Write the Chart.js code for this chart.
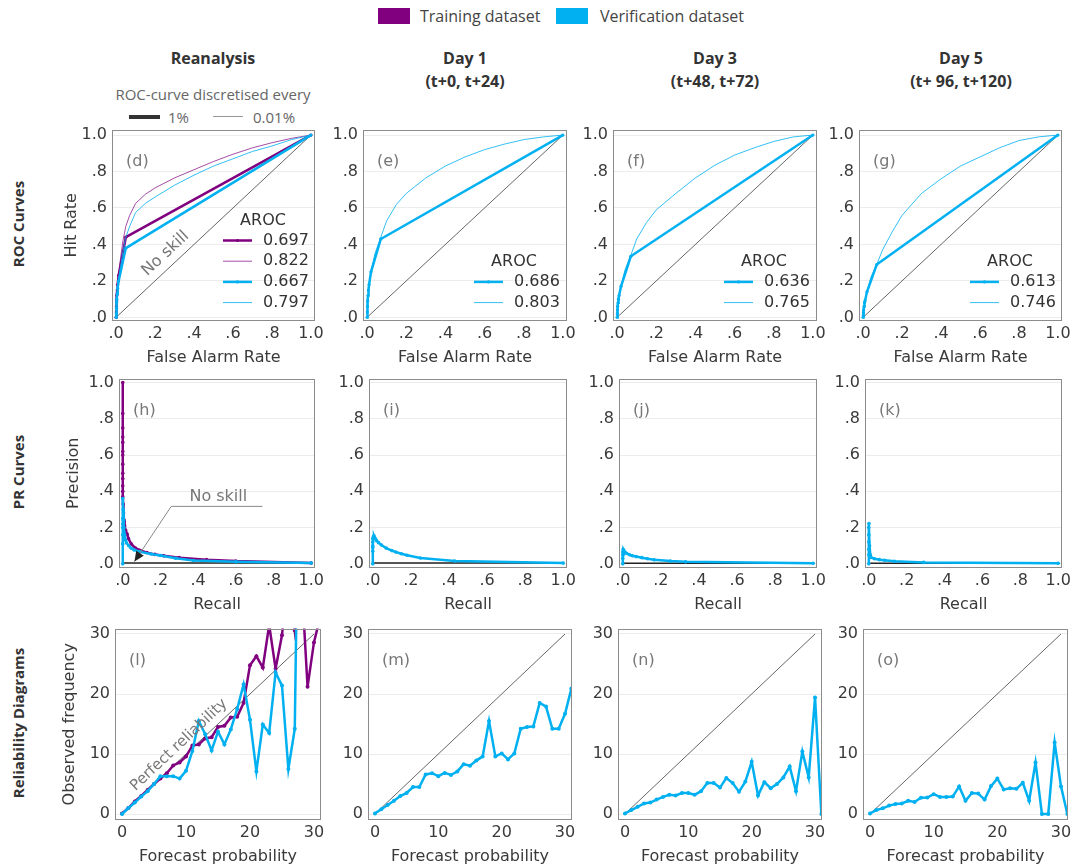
<!DOCTYPE html>
<html>
<head>
<meta charset="utf-8">
<script src="https://cdn.jsdelivr.net/npm/chart.js@4.4.1/dist/chart.umd.min.js"></script>
<style>
  body { margin:0; width:1075px; height:868px; position:relative; overflow:hidden; background:#fff; font-family:"Open Sans", sans-serif; }
  .t { position:absolute; white-space:nowrap; transform:translate(-50%,-50%); }
  .hdr { font-weight:bold; font-size:16px; color:#333; }
  .row { font-weight:bold; font-size:15px; color:#333; transform:translate(-50%,-50%) rotate(-90deg); }
  .lg { position:absolute; white-space:nowrap; transform:translateY(-50%); }
  .sw { position:absolute; }
  canvas { position:absolute; }
</style>
</head>
<body>

<!-- dataset legend -->
<div class="sw" style="left:378px;top:8px;width:32px;height:16px;background:#800080"></div>
<div class="lg" style="left:420px;top:16px;font-size:16px;color:#444">Training dataset</div>
<div class="sw" style="left:556px;top:8px;width:32px;height:16px;background:#00b0f0"></div>
<div class="lg" style="left:600px;top:16px;font-size:16px;color:#444">Verification dataset</div>

<!-- column headers -->
<div class="t hdr" style="left:213px;top:58px">Reanalysis</div>
<div class="t hdr" style="left:465px;top:58px">Day 1</div>
<div class="t hdr" style="left:465px;top:81px">(t+0, t+24)</div>
<div class="t hdr" style="left:715px;top:58px">Day 3</div>
<div class="t hdr" style="left:715px;top:81px">(t+48, t+72)</div>
<div class="t hdr" style="left:961px;top:58px">Day 5</div>
<div class="t hdr" style="left:961px;top:81px">(t+ 96, t+120)</div>

<!-- discretisation legend -->
<div class="t" style="left:213px;top:94px;font-size:15px;color:#666">ROC-curve discretised every</div>
<div class="sw" style="left:129px;top:115px;width:31px;height:4px;background:#333"></div>
<div class="lg" style="left:168px;top:117px;font-size:15px;color:#666">1%</div>
<div class="sw" style="left:213px;top:116px;width:30px;height:1px;background:#999"></div>
<div class="lg" style="left:253px;top:117px;font-size:15px;color:#666">0.01%</div>

<!-- row labels -->
<div class="t row" style="left:18px;top:224px">ROC Curves</div>
<div class="t row" style="left:18px;top:472px">PR Curves</div>
<div class="t row" style="left:18px;top:723px">Reliability Diagrams</div>

<script>
// ---- ROC curves: [false alarm rate, hit rate] ----
const rocD_trainCoarse = [[0,0],[0.001,0.03],[0.002,0.06],[0.003,0.09],[0.004,0.12],[0.006,0.15],[0.008,0.18],[0.013,0.23],[0.05,0.44],[1,1]];
const rocD_trainFine = [[0,0],[0.005,0.12],[0.01,0.2],[0.02,0.3],[0.035,0.42],[0.05,0.5],[0.07,0.56],[0.1,0.625],[0.15,0.675],[0.2,0.71],[0.3,0.765],[0.4,0.81],[0.5,0.855],[0.6,0.895],[0.7,0.93],[0.8,0.958],[0.9,0.982],[1,1]];
const rocD_verCoarse = [[0,0],[0.001,0.02],[0.002,0.05],[0.003,0.08],[0.004,0.1],[0.006,0.13],[0.008,0.16],[0.013,0.2],[0.05,0.38],[1,1]];
const rocD_verFine = [[0,0],[0.005,0.1],[0.01,0.17],[0.02,0.26],[0.035,0.36],[0.05,0.44],[0.07,0.5],[0.1,0.575],[0.15,0.625],[0.2,0.66],[0.3,0.725],[0.4,0.78],[0.5,0.83],[0.6,0.87],[0.7,0.91],[0.8,0.94],[0.9,0.975],[1,1]];

const rocE_coarse = [[0,0],[0.001,0.03],[0.002,0.06],[0.003,0.09],[0.005,0.12],[0.007,0.15],[0.01,0.18],[0.02,0.25],[0.07,0.43],[1,1]];
const rocE_fine = [[0,0],[0.005,0.1],[0.01,0.17],[0.02,0.25],[0.04,0.35],[0.07,0.44],[0.1,0.53],[0.15,0.62],[0.2,0.68],[0.3,0.765],[0.4,0.83],[0.5,0.88],[0.6,0.92],[0.7,0.95],[0.8,0.975],[0.9,0.99],[1,1]];
const rocF_coarse = [[0,0],[0.001,0.02],[0.002,0.04],[0.003,0.06],[0.005,0.08],[0.007,0.1],[0.01,0.12],[0.02,0.17],[0.07,0.335],[1,1]];
const rocF_fine = [[0,0],[0.005,0.07],[0.01,0.12],[0.02,0.17],[0.04,0.26],[0.07,0.34],[0.1,0.43],[0.15,0.52],[0.2,0.59],[0.3,0.68],[0.4,0.765],[0.5,0.835],[0.6,0.89],[0.7,0.93],[0.8,0.965],[0.9,0.99],[1,1]];
const rocG_coarse = [[0,0],[0.001,0.01],[0.002,0.025],[0.003,0.04],[0.005,0.06],[0.007,0.08],[0.01,0.09],[0.02,0.14],[0.07,0.29],[1,1]];
const rocG_fine = [[0,0],[0.005,0.05],[0.01,0.09],[0.02,0.14],[0.04,0.22],[0.07,0.29],[0.1,0.37],[0.15,0.47],[0.2,0.56],[0.3,0.68],[0.4,0.76],[0.5,0.83],[0.6,0.88],[0.7,0.93],[0.8,0.97],[0.9,0.99],[1,1]];

const arocD = [0.697, 0.822, 0.667, 0.797];
const arocE = [0.686, 0.803];
const arocF = [0.636, 0.765];
const arocG = [0.613, 0.746];

// ---- PR curves: [recall, precision] ----
const prH_train = [[0,1],[0,0.83],[0,0.75],[0,0.7],[0,0.67],[0,0.62],[0,0.6],[0,0.55],[0,0.5],[0,0.47],[0,0.43],[0,0.4],[0,0.37],[0.002,0.33],[0.004,0.28],[0.007,0.24],[0.01,0.21],[0.015,0.185],[0.023,0.165],[0.03,0.14],[0.045,0.11],[0.067,0.087],[0.09,0.075],[0.128,0.062],[0.17,0.052],[0.217,0.044],[0.3,0.034],[0.445,0.023],[0.6,0.015],[1,0.004]];
const prH_ver = [[0,0],[0,0.11],[0,0.16],[0,0.2],[0,0.22],[0,0.25],[0,0.36],[0.002,0.3],[0.004,0.24],[0.006,0.2],[0.01,0.16],[0.015,0.13],[0.02,0.115],[0.032,0.1],[0.045,0.086],[0.06,0.077],[0.093,0.066],[0.15,0.054],[0.2,0.046],[0.28,0.031],[0.375,0.018],[0.6,0.011],[1,0.004]];
const prI_ver = [[0,0],[0,0.07],[0,0.09],[0,0.1],[0,0.12],[0,0.14],[0.003,0.15],[0.006,0.155],[0.01,0.145],[0.015,0.135],[0.02,0.127],[0.03,0.117],[0.045,0.104],[0.07,0.087],[0.1,0.073],[0.12,0.065],[0.15,0.056],[0.18,0.047],[0.25,0.032],[0.43,0.016],[1,0.004]];
const prJ_ver = [[0,0],[0,0.03],[0,0.05],[0,0.065],[0.002,0.08],[0.006,0.07],[0.01,0.065],[0.02,0.058],[0.035,0.05],[0.05,0.045],[0.07,0.04],[0.1,0.034],[0.13,0.028],[0.165,0.022],[0.25,0.015],[0.33,0.011],[1,0.003]];
const prK_ver = [[0,0],[0,0.05],[0,0.08],[0,0.12],[0,0.16],[0,0.2],[0.001,0.222],[0.004,0.1],[0.008,0.05],[0.012,0.035],[0.03,0.028],[0.056,0.023],[0.083,0.02],[0.136,0.014],[0.29,0.008],[1,0.003]];
const prBase = [0.004, 0.004, 0.003, 0.003];

// ---- Reliability: forecast probability bins (%) and observed frequency (%) ----
const relBins = [0,1,2,3,4,5,6,7,8,9,10,11,12,13,14,15,16,17,18,19,20,21,22,23,24,25,26,27,28,29,30,31];
const relL_train = [0.1,1.0,2.1,3.0,4.0,5.0,5.9,6.8,8.1,8.6,9.6,11.4,11.6,12.6,12.8,14.5,14.7,16.1,16.2,18.5,24.8,26.3,24.4,31.5,24.2,29.8,40,30.6,40,21.2,28.6,33];
const relL_ver = [0,1.0,1.9,2.9,3.8,5.0,6.3,6.3,6.3,5.9,7.2,10.5,15.5,13.3,10.6,13.7,11.6,14.1,17.5,21.6,15.7,7.1,14.9,13.5,23.6,21.4,7.5,14.2,90,90,90,90];
const relM_ver = [0.1,0.8,1.5,2.2,3.0,3.5,4.5,4.5,6.6,6.8,6.3,6.85,6.5,7.1,8.3,8.05,8.9,9.6,15.5,9.6,10.1,9.1,10.1,14.2,14.5,14.6,18.5,17.9,14.2,14.2,16.7,20.9];
const relN_ver = [0.1,0.65,1.2,1.75,1.9,2.4,2.85,3.2,3.1,3.5,3.5,3.2,3.8,5.15,5.15,4.4,6.0,5.15,3.7,5.4,8.7,3.1,5.3,4.3,5.0,6.1,7.9,3.8,10.4,6.1,19.4,0];
const relO_ver = [0.1,0.65,0.95,1.4,1.65,1.75,2.2,2.0,2.7,2.75,3.3,2.85,2.85,2.9,4.6,2.2,3.5,3.4,2.4,4.65,5.9,4.1,4.3,4.2,5.2,2.2,8.6,0,0,11.9,4.6,0];

const PURPLE = '#800080';
const CYAN = '#00b0f0';
const PURPLE_THIN = 'rgba(128,0,128,0.7)';
const CYAN_THIN = 'rgba(0,176,240,0.8)';
const FONT = 'DejaVu Sans';

const pts = a => a.map(p => ({x: p[0], y: p[1]}));
const binPts = ys => ys.map((v, i) => ({x: relBins[i], y: v}));

function series(data, color, width, radius, order) {
  return { data, borderColor: color, backgroundColor: color, borderWidth: width,
    pointRadius: radius, pointBackgroundColor: color, pointBorderColor: color, pointBorderWidth: 0,
    fill: false, tension: 0, order };
}
function refLine(data, color, width) {
  return { data, borderColor: color, borderWidth: width, pointRadius: 0, fill: false, order: 20 };
}

const unitFmt = v => v === 1 ? '1.0' : '.' + Math.round(v * 10);
const intFmt = v => String(v);

function makeAxis(o) {
  return {
    type: 'linear', min: o.min, max: o.max,
    afterBuildTicks: s => { s.ticks = o.ticks.map(v => ({value: v})); },
    afterFit: s => { if (s.isHorizontal()) s.height = o.size; else s.width = o.size; },
    grid: { display: o.grid, color: '#ececec', lineWidth: 1, drawTicks: false },
    border: { display: false },
    ticks: { autoSkip: false, maxRotation: 0, padding: o.pad, color: '#3a3a3a',
      font: {family: FONT, size: 16}, callback: o.fmt },
    title: { display: !!o.title, text: o.title || '', color: '#3a3a3a',
      font: {family: FONT, size: 16}, padding: 0 }
  };
}

// draws frame, panel letter, AROC legend and notes
function deco(spec) {
  return {
    id: 'deco',
    afterDraw(chart) {
      const c = chart.ctx, a = chart.chartArea, sx = chart.scales.x, sy = chart.scales.y;
      c.save();
      c.strokeStyle = '#8c8c8c'; c.lineWidth = 1;
      c.strokeRect(Math.round(a.left) + 0.5, Math.round(a.top) + 0.5,
        Math.round(a.right - a.left) - 1, Math.round(a.bottom - a.top) - 1);
      c.font = '16px "' + FONT + '"';
      c.textBaseline = 'middle';
      c.fillStyle = '#777'; c.textAlign = 'left';
      c.fillText(spec.label, a.left + 14, a.top + 32);

      if (spec.legend) {
        const ds = chart.data.datasets, lg = spec.legend, n = lg.items.length;
        const y0 = a.top + 173 - (n - 1) * 20.7;
        c.fillStyle = '#333'; c.textAlign = 'center';
        c.fillText('AROC', a.left + 151, y0 - 20);
        lg.items.forEach((di, k) => {
          const d = ds[di], y = y0 + k * 20.7;
          c.strokeStyle = d.borderColor; c.lineWidth = d.borderWidth;
          c.beginPath(); c.moveTo(a.left + 111, y); c.lineTo(a.left + 140, y); c.stroke();
          if (d.pointRadius) {
            c.fillStyle = d.borderColor;
            c.beginPath(); c.arc(a.left + 125.5, y, d.pointRadius, 0, Math.PI * 2); c.fill();
          }
          c.fillStyle = '#333'; c.textAlign = 'left';
          c.fillText(lg.values[k].toFixed(3), a.left + 151, y);
        });
      }

      if (spec.diagText) {
        const t = spec.diagText;
        const ang = Math.atan2(sy.getPixelForValue(t.end) - sy.getPixelForValue(0),
          sx.getPixelForValue(t.end) - sx.getPixelForValue(0));
        c.translate(sx.getPixelForValue(t.x), sy.getPixelForValue(t.y));
        c.rotate(ang);
        c.fillStyle = '#777'; c.textAlign = 'center';
        c.font = t.size + 'px "' + FONT + '"';
        c.fillText(t.text, 0, 0);
        c.setTransform(1, 0, 0, 1, 0, 0);
      }

      if (spec.pointer) {
        const p = spec.pointer;
        c.fillStyle = '#777'; c.textAlign = 'center';
        c.fillText(p.text, sx.getPixelForValue(p.tx), sy.getPixelForValue(p.ty));
        const q = p.path.map(v => [sx.getPixelForValue(v[0]), sy.getPixelForValue(v[1])]);
        c.strokeStyle = '#888'; c.lineWidth = 1;
        c.beginPath(); c.moveTo(q[0][0], q[0][1]);
        for (let i = 1; i < q.length; i++) c.lineTo(q[i][0], q[i][1]);
        c.stroke();
        const tip = q[q.length - 1], prev = q[q.length - 2];
        const th = Math.atan2(tip[1] - prev[1], tip[0] - prev[0]);
        c.fillStyle = '#222';
        c.beginPath();
        c.moveTo(tip[0], tip[1]);
        c.lineTo(tip[0] - 10 * Math.cos(th) + 4.5 * Math.sin(th), tip[1] - 10 * Math.sin(th) - 4.5 * Math.cos(th));
        c.lineTo(tip[0] - 10 * Math.cos(th) - 4.5 * Math.sin(th), tip[1] - 10 * Math.sin(th) + 4.5 * Math.cos(th));
        c.closePath(); c.fill();
      }
      c.restore();
    }
  };
}

// layout of the grid
const rows = [
  {T:127, B:321, xr:[-0.021, 1.021], yr:[-0.02, 1.03], ticks:[0,0.2,0.4,0.6,0.8,1], fmt:unitFmt,
   xTitle:'False Alarm Rate', yTitle:'Hit Rate', titleLeft:62},
  {T:376, B:568, xr:[-0.02, 1.02], yr:[-0.023, 1.022], ticks:[0,0.2,0.4,0.6,0.8,1], fmt:unitFmt,
   xTitle:'Recall', yTitle:'Precision', titleLeft:64},
  {T:626, B:820, xr:[-1.1, 31.1], yr:[-1, 30.9], ticks:[0,10,20,30], fmt:intFmt,
   xTitle:'Forecast probability', yTitle:'Observed frequency', titleLeft:60}
];
const cols = [
  [[112,315],[363,567],[613,817],[859,1062]],
  [[119,315],[369,567],[619,817],[865,1062]],
  [[115,321],[368,572],[618,822],[863,1068]]
];

const diagROC = pts([[0,0],[1,1]]);
const diagRel = pts([[0,0],[30,30]]);
const noSkill = b => pts([[0,b],[1,b]]);

const panels = [
  // ROC
  {r:0, c:0, label:'(d)', datasets:[refLine(diagROC,'#666',1),
     series(pts(rocD_trainCoarse), PURPLE, 2.5, 1.6, 4), series(pts(rocD_trainFine), PURPLE_THIN, 1, 0, 3),
     series(pts(rocD_verCoarse), CYAN, 2.5, 1.6, 2), series(pts(rocD_verFine), CYAN_THIN, 1, 0, 1)],
   legend:{items:[1,2,3,4], values:arocD},
   diagText:{text:'No skill', x:0.254, y:0.35, end:1, size:16}},
  {r:0, c:1, label:'(e)', datasets:[refLine(diagROC,'#666',1),
     series(pts(rocE_coarse), CYAN, 2.5, 1.6, 2), series(pts(rocE_fine), CYAN_THIN, 1, 0, 1)],
   legend:{items:[1,2], values:arocE}},
  {r:0, c:2, label:'(f)', datasets:[refLine(diagROC,'#666',1),
     series(pts(rocF_coarse), CYAN, 2.5, 1.6, 2), series(pts(rocF_fine), CYAN_THIN, 1, 0, 1)],
   legend:{items:[1,2], values:arocF}},
  {r:0, c:3, label:'(g)', datasets:[refLine(diagROC,'#666',1),
     series(pts(rocG_coarse), CYAN, 2.5, 1.6, 2), series(pts(rocG_fine), CYAN_THIN, 1, 0, 1)],
   legend:{items:[1,2], values:arocG}},
  // PR
  {r:1, c:0, label:'(h)', datasets:[refLine(noSkill(prBase[0]),'#222',1.5),
     series(pts(prH_train), PURPLE, 2.5, 1.8, 2), series(pts(prH_ver), CYAN, 2.5, 1.8, 1)],
   pointer:{text:'No skill', tx:0.507, ty:0.371, path:[[0.741,0.317],[0.257,0.317],[0.062,0.0125]]}},
  {r:1, c:1, label:'(i)', datasets:[refLine(noSkill(prBase[1]),'#222',1.5), series(pts(prI_ver), CYAN, 2.5, 1.8, 1)]},
  {r:1, c:2, label:'(j)', datasets:[refLine(noSkill(prBase[2]),'#222',1.5), series(pts(prJ_ver), CYAN, 2.5, 1.8, 1)]},
  {r:1, c:3, label:'(k)', datasets:[refLine(noSkill(prBase[3]),'#222',1.5), series(pts(prK_ver), CYAN, 2.5, 1.8, 1)]},
  // Reliability
  {r:2, c:0, label:'(l)', datasets:[refLine(diagRel,'#666',1),
     series(binPts(relL_train), PURPLE, 2.5, 2, 2), series(binPts(relL_ver), CYAN, 2.5, 2, 1)],
   diagText:{text:'Perfect reliability', x:8.9, y:11.5, end:30, size:15}},
  {r:2, c:1, label:'(m)', datasets:[refLine(diagRel,'#666',1), series(binPts(relM_ver), CYAN, 2.5, 2, 1)]},
  {r:2, c:2, label:'(n)', datasets:[refLine(diagRel,'#666',1), series(binPts(relN_ver), CYAN, 2.5, 2, 1)]},
  {r:2, c:3, label:'(o)', datasets:[refLine(diagRel,'#666',1), series(binPts(relO_ver), CYAN, 2.5, 2, 1)]}
];

const XH = 46, PT = 12, PR = 16;

panels.forEach(p => {
  const row = rows[p.r];
  const [L, R] = cols[p.r][p.c];
  const first = p.c === 0;
  const cLeft = first ? row.titleLeft : L - 50;
  const YW = L - cLeft;
  const cTop = row.T - PT;
  const cv = document.createElement('canvas');
  cv.width = R + PR - cLeft;
  cv.height = row.B + XH - cTop;
  cv.style.left = cLeft + 'px';
  cv.style.top = cTop + 'px';
  document.body.appendChild(cv);

  new Chart(cv, {
    type: 'line',
    data: { datasets: p.datasets },
    options: {
      responsive: false, animation: false, events: [],
      layout: { padding: {left: 0, top: PT, right: PR, bottom: 0} },
      plugins: { legend: {display: false}, tooltip: {enabled: false} },
      scales: {
        x: makeAxis({min: row.xr[0], max: row.xr[1], ticks: row.ticks, fmt: row.fmt, size: XH,
          pad: 3, grid: false, title: row.xTitle}),
        y: makeAxis({min: row.yr[0], max: row.yr[1], ticks: row.ticks, fmt: row.fmt, size: YW,
          pad: 5, grid: true, title: first ? row.yTitle : null})
      }
    },
    plugins: [deco(p)]
  });
});
</script>
</body>
</html>
